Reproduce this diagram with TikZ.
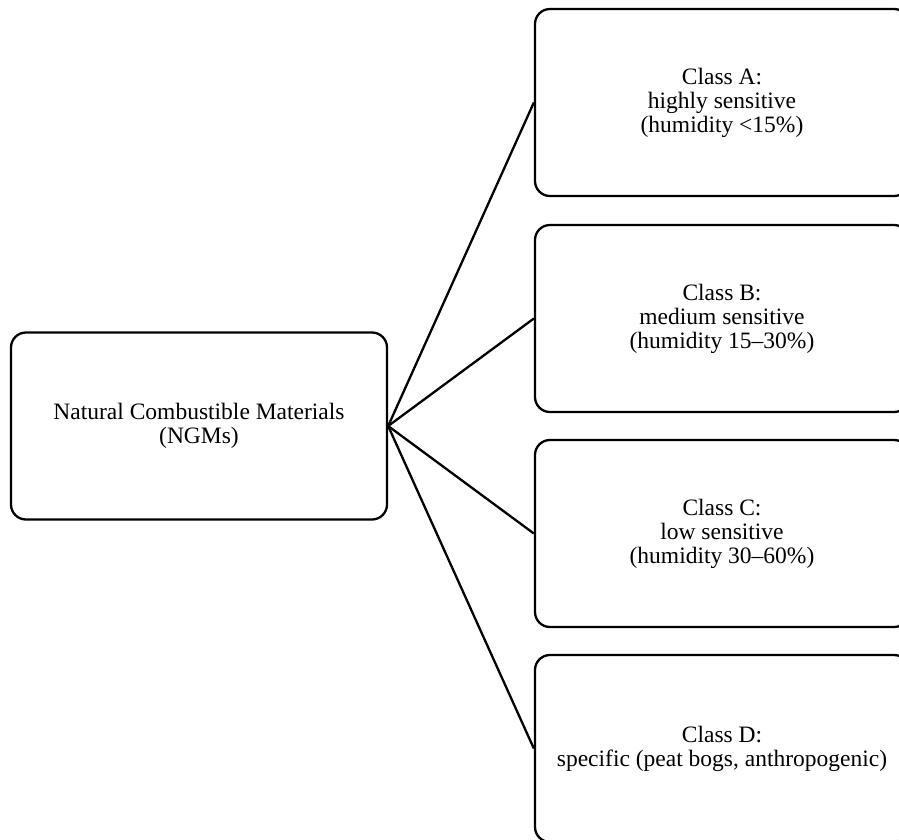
\documentclass[tikz,border=0pt]{standalone}
\usepackage{fontspec}
\setmainfont{Liberation Serif}
\usepackage{tikz}
\usetikzlibrary{positioning}

\begin{document}
\begin{tikzpicture}[x=1pt,y=-1pt,
  box/.style={draw, line width=2.3pt, rounded corners=15pt, align=center,
    minimum width=376pt, minimum height=187pt, inner sep=0pt,
    font=\fontsize{23.5}{24}\selectfont},
  cls/.style={box, minimum width=374pt},
  link/.style={line width=2.3pt}]
\clip (0,0) rectangle (899,839);
\node[box] (N) at (199,426) {Natural Combustible Materials\\(NGMs)};
\node[cls] (A) at (722,102.5) {Class A:\\highly sensitive\\(humidity <15\%)};
\node[cls] (B) at (722,318.5) {Class B:\\medium sensitive\\(humidity 15--30\%)};
\node[cls] (C) at (722,533.5) {Class C:\\low sensitive\\(humidity 30--60\%)};
\node[cls] (D) at (722,748.5) {Class D:\\specific (peat bogs, anthropogenic)};
\draw[link] (N.east) -- (A.west);
\draw[link] (N.east) -- (B.west);
\draw[link] (N.east) -- (C.west);
\draw[link] (N.east) -- (D.west);
\end{tikzpicture}
\end{document}
